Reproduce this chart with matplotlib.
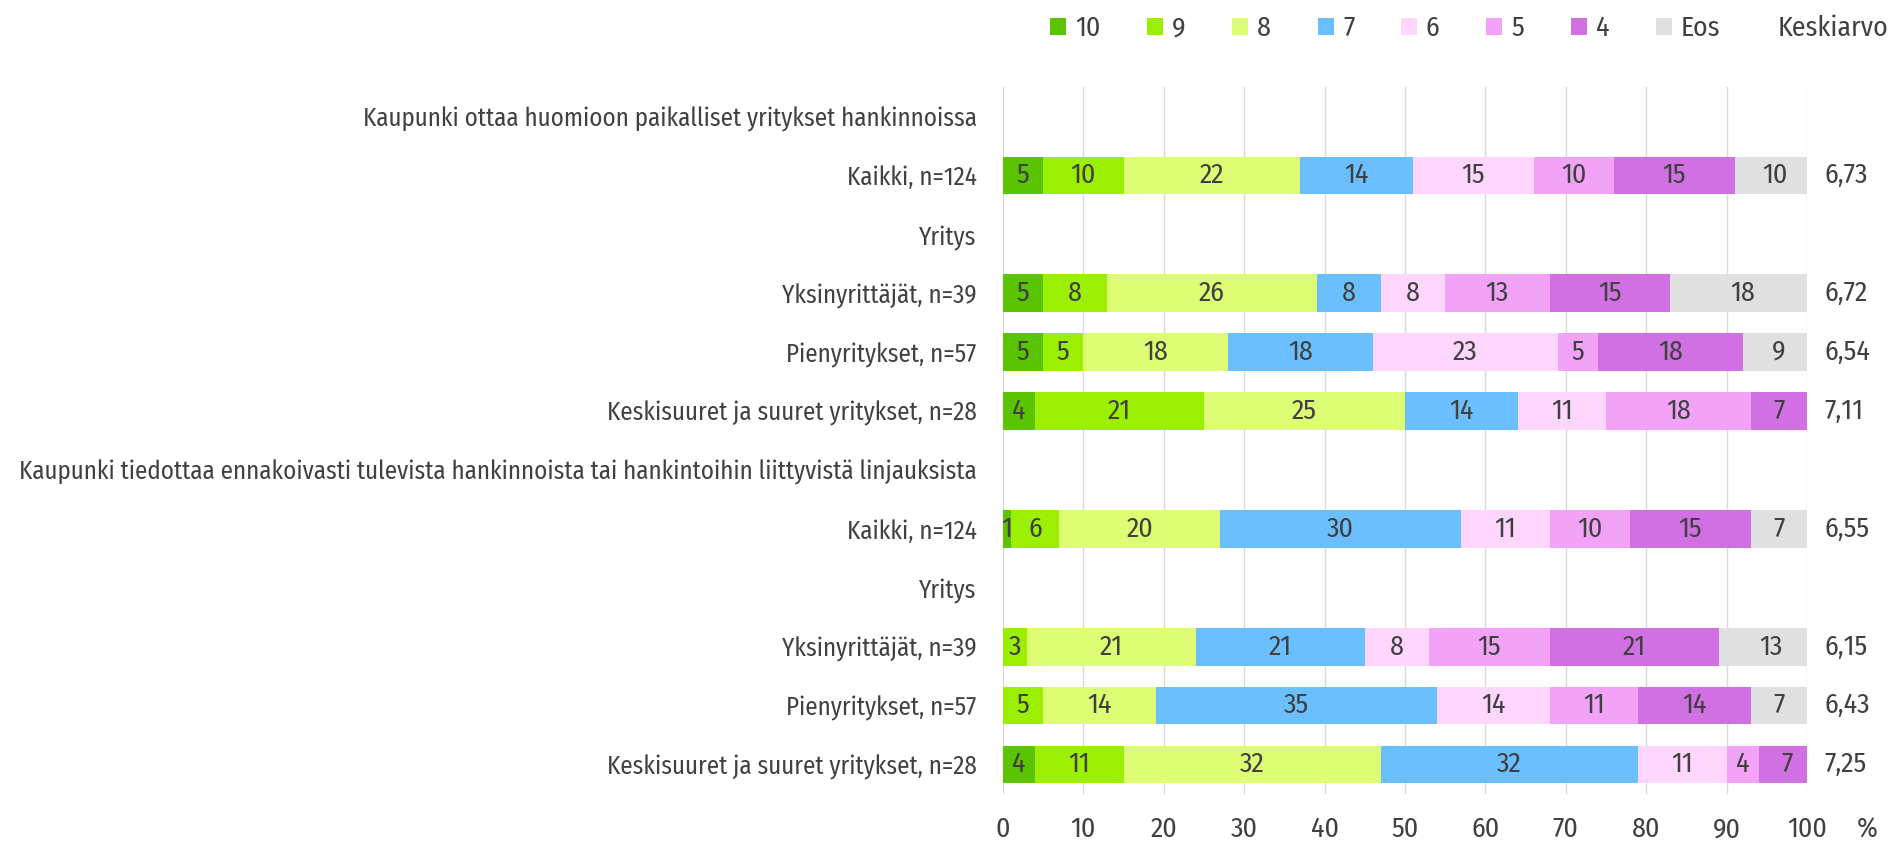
import matplotlib
matplotlib.use('Agg')
import matplotlib.pyplot as plt
from matplotlib.patches import Patch
from matplotlib import font_manager

# Kapea fontti, varalla DejaVu Sans tiivistettynä
nimet = {f.name for f in font_manager.fontManager.ttflist}
if 'Fira Sans Condensed' in nimet:
    plt.rcParams['font.family'] = ['Fira Sans Condensed', 'DejaVu Sans']
    iso, pieni = 20, 18
else:
    plt.rcParams['font.family'] = ['DejaVu Sans']
    plt.rcParams['font.stretch'] = 'condensed'
    iso, pieni = 15, 13.5

rivit = [
    'Kaupunki ottaa huomioon paikalliset yritykset hankinnoissa',
    'Kaikki, n=124',
    'Yritys',
    'Yksinyrittäjät, n=39',
    'Pienyritykset, n=57',
    'Keskisuuret ja suuret yritykset, n=28',
    'Kaupunki tiedottaa ennakoivasti tulevista hankinnoista tai hankintoihin liittyvistä linjauksista',
    'Kaikki, n=124',
    'Yritys',
    'Yksinyrittäjät, n=39',
    'Pienyritykset, n=57',
    'Keskisuuret ja suuret yritykset, n=28',
]

luokat = ['10', '9', '8', '7', '6', '5', '4', 'Eos']
varit = ['#5BC400', '#9AF000', '#DDFD75', '#6CBFFE', '#FED6FE', '#F2A3F8', '#D070E2', '#E0E0E0']

# Prosenttiosuudet riveittäin (None = otsikkorivi ilman palkkia)
osuudet = [
    None,
    [5, 10, 22, 14, 15, 10, 15, 10],
    None,
    [5, 8, 26, 8, 8, 13, 15, 18],
    [5, 5, 18, 18, 23, 5, 18, 9],
    [4, 21, 25, 14, 11, 18, 7, 0],
    None,
    [1, 6, 20, 30, 11, 10, 15, 7],
    None,
    [0, 3, 21, 21, 8, 15, 21, 13],
    [0, 5, 14, 35, 14, 11, 14, 7],
    [4, 11, 32, 32, 11, 4, 7, 0],
]

keskiarvot = [None, '6,73', None, '6,72', '6,54', '7,11', None, '6,55', None, '6,15', '6,43', '7,25']

teksti = '#404040'

fig = plt.figure(figsize=(18.88, 8.43), dpi=100)
ax = fig.add_axes([0.5312, 0.0581, 0.4259, 0.8387])

for i, arvot in enumerate(osuudet):
    if arvot is None:
        continue
    vasen = 0
    for j, v in enumerate(arvot):
        if v > 0:
            ax.barh(i, v, left=vasen, height=0.64, color=varit[j], zorder=2)
            ax.text(vasen + v / 2, i, str(v), ha='center', va='center',
                    fontsize=iso, color=teksti, zorder=3)
        vasen += v
    ax.text(102.2, i, keskiarvot[i], ha='left', va='center',
            fontsize=iso, color=teksti, clip_on=False)

ax.set_xlim(0, 100)
ax.set_ylim(11.5, -0.5)
ax.set_xticks(range(0, 101, 10))
ax.set_yticks(range(len(rivit)))
ax.set_yticklabels(rivit)
ax.tick_params(axis='y', length=0, pad=19, labelsize=pieni, labelcolor=teksti)
ax.tick_params(axis='x', length=0, pad=16, labelsize=iso, labelcolor=teksti)
ax.grid(axis='x', color='#D9D9D9', linewidth=1, zorder=0)
ax.set_axisbelow(True)
for s in ax.spines.values():
    s.set_visible(False)

fig.text(1867 / 1888, 1 - 830 / 843, '%', ha='center', va='center',
         fontsize=iso, color=teksti)

# Selite yläreunaan
kahvat = [Patch(facecolor=c, label=l) for c, l in zip(varit, luokat)]
fig.legend(handles=kahvat, loc='center left', bbox_to_anchor=(1050 / 1888, 0.966),
           ncol=8, frameon=False, fontsize=iso, labelcolor=teksti,
           borderpad=0, borderaxespad=0,
           handlelength=0.58, handleheight=0.58, handletextpad=0.32,
           columnspacing=1.68)
fig.text(1778 / 1888, 0.966, 'Keskiarvo', ha='left', va='center',
         fontsize=iso, color=teksti)

fig.savefig('out.png', dpi=100)
